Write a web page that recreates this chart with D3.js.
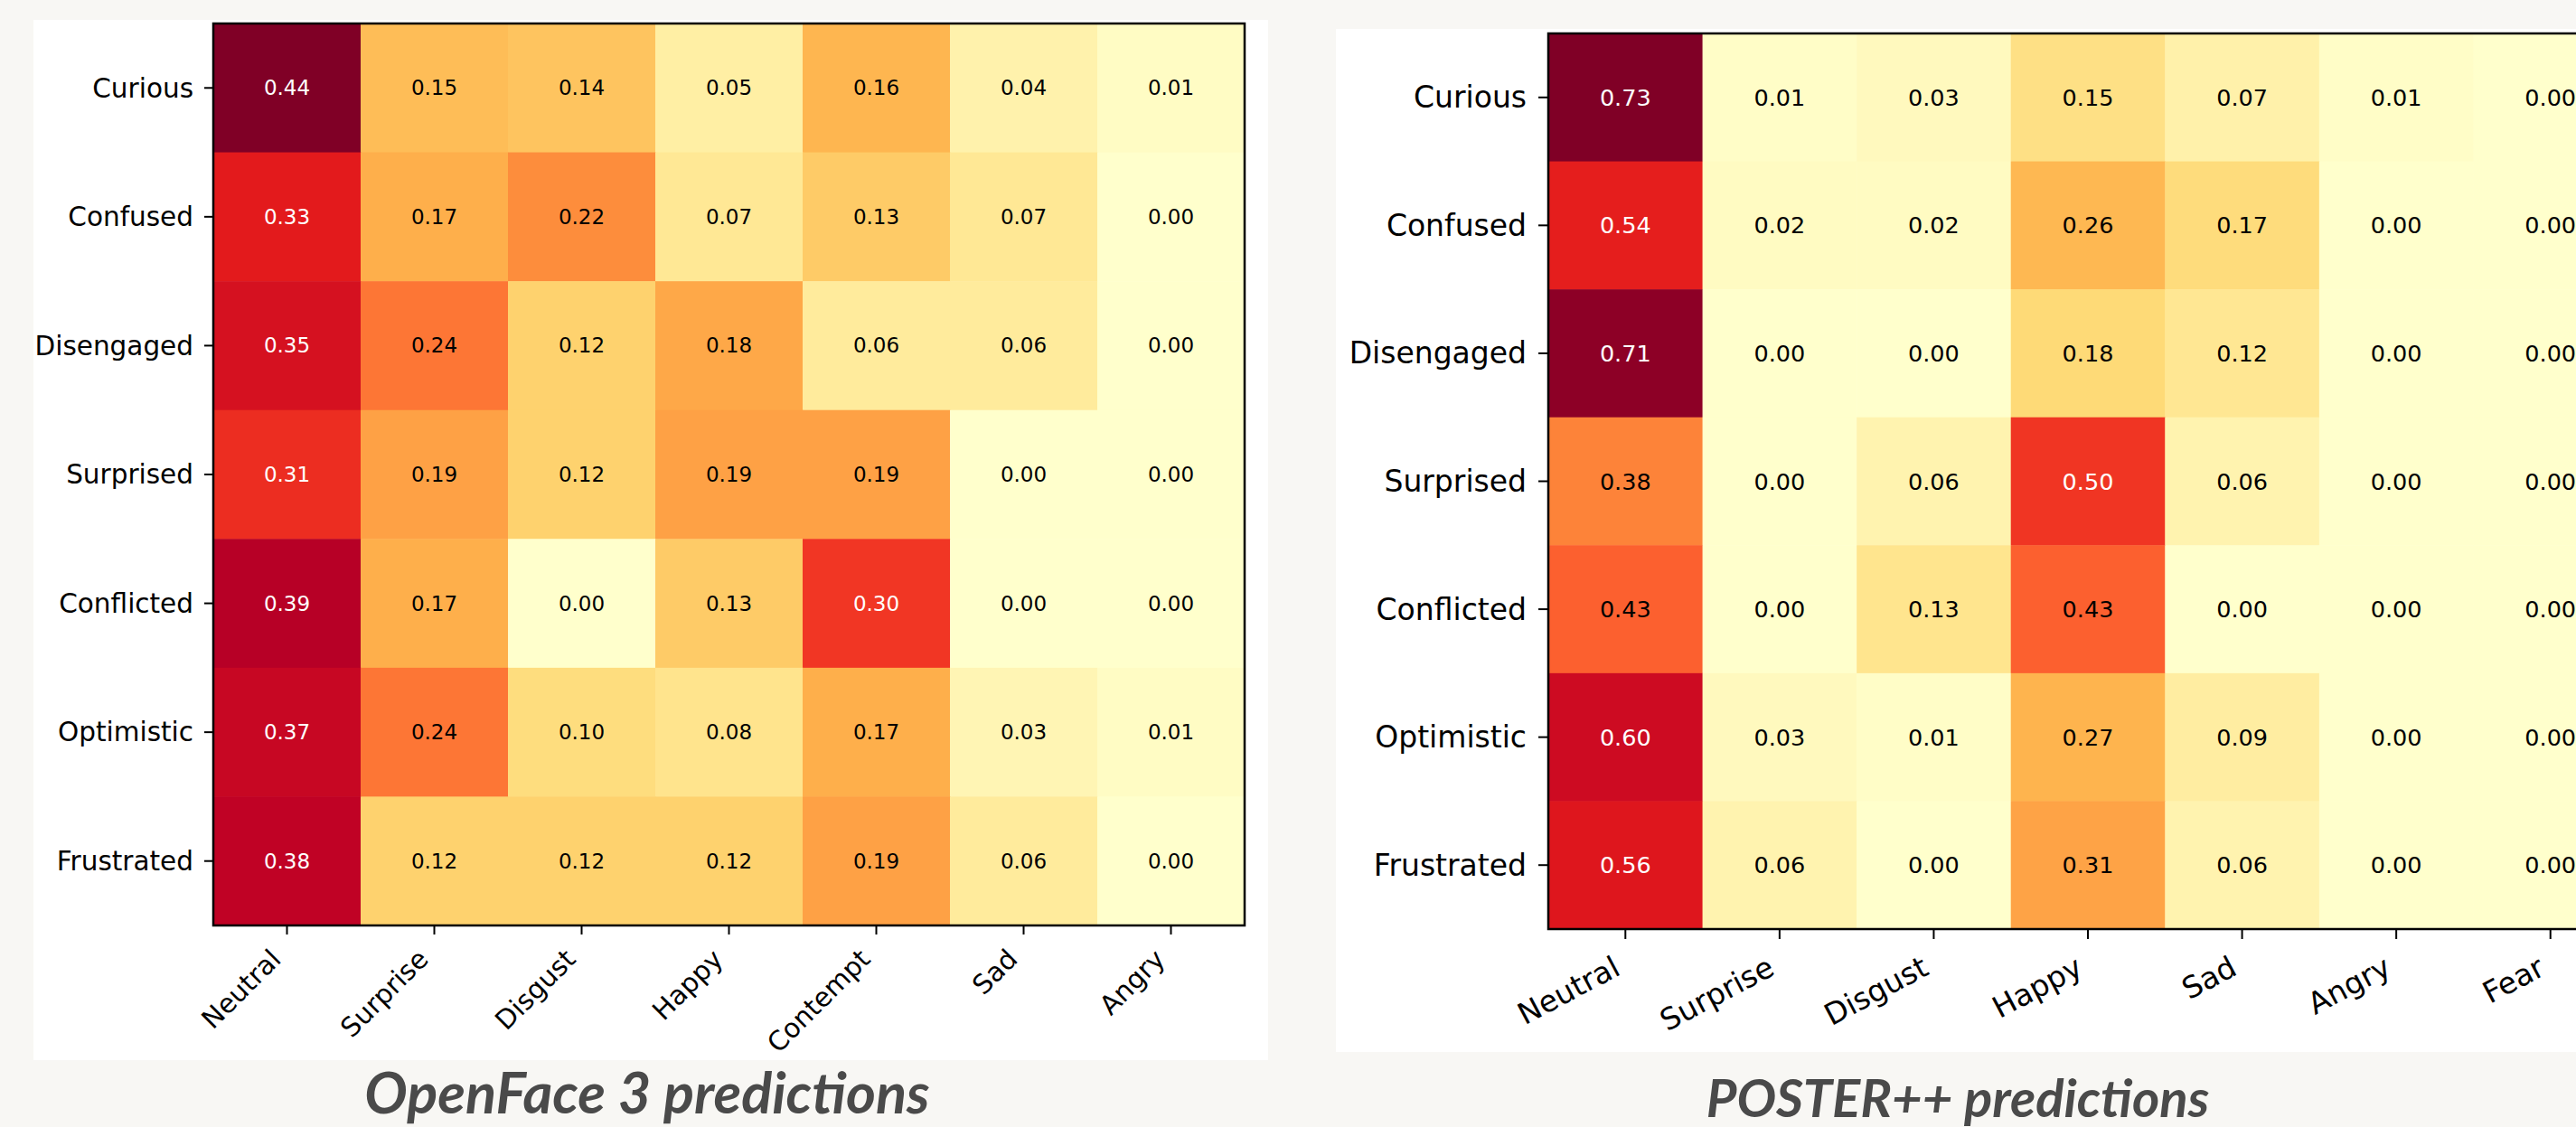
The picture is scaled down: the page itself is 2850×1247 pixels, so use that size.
<!DOCTYPE html>
<html>
<head>
<meta charset="utf-8">
<script src="https://cdn.jsdelivr.net/npm/d3@7"></script>
<style>
  html, body { margin: 0; padding: 0; background: #f8f7f4; overflow: hidden; }
  svg { display: block; }
</style>
</head>
<body>
<svg id="chart" width="2850" height="1247"></svg>
<script>
// Participant-reported states (rows) shared by both heatmaps
const states = ["Curious", "Confused", "Disengaged", "Surprised", "Conflicted", "Optimistic", "Frustrated"];

// OpenFace 3 predicted emotion classes and proportions per state
const openfaceEmotions = ["Neutral", "Surprise", "Disgust", "Happy", "Contempt", "Sad", "Angry"];
const openfaceValues = [
  [0.44, 0.15, 0.14, 0.05, 0.16, 0.04, 0.01],
  [0.33, 0.17, 0.22, 0.07, 0.13, 0.07, 0.00],
  [0.35, 0.24, 0.12, 0.18, 0.06, 0.06, 0.00],
  [0.31, 0.19, 0.12, 0.19, 0.19, 0.00, 0.00],
  [0.39, 0.17, 0.00, 0.13, 0.30, 0.00, 0.00],
  [0.37, 0.24, 0.10, 0.08, 0.17, 0.03, 0.01],
  [0.38, 0.12, 0.12, 0.12, 0.19, 0.06, 0.00]
];

// POSTER++ predicted emotion classes and proportions per state
const posterEmotions = ["Neutral", "Surprise", "Disgust", "Happy", "Sad", "Angry", "Fear"];
const posterValues = [
  [0.73, 0.01, 0.03, 0.15, 0.07, 0.01, 0.00],
  [0.54, 0.02, 0.02, 0.26, 0.17, 0.00, 0.00],
  [0.71, 0.00, 0.00, 0.18, 0.12, 0.00, 0.00],
  [0.38, 0.00, 0.06, 0.50, 0.06, 0.00, 0.00],
  [0.43, 0.00, 0.13, 0.43, 0.00, 0.00, 0.00],
  [0.60, 0.03, 0.01, 0.27, 0.09, 0.00, 0.00],
  [0.56, 0.06, 0.00, 0.31, 0.06, 0.00, 0.00]
];

const titles = ["OpenFace 3 predictions", "POSTER++ predictions"];

// YlOrRd colour stops (ColorBrewer, 9 classes), interpolated linearly
const ylOrRd = ["#ffffcc", "#ffeda0", "#fed976", "#feb24c", "#fd8d3c", "#fc4e2a", "#e31a1c", "#bd0026", "#800026"];

const svg = d3.select("#chart");

svg.append("rect").attr("width", 2850).attr("height", 1247).attr("fill", "#f8f7f4");

function drawHeatmap(cfg) {
  const { rows, cols, values } = cfg;
  const vmax = d3.max(values.flat());
  const color = d3.scaleLinear()
    .domain(ylOrRd.map((_, i) => i / (ylOrRd.length - 1) * vmax))
    .range(ylOrRd)
    .interpolate(d3.interpolateRgb);

  // white card behind the plot
  svg.append("rect")
    .attr("x", cfg.card[0]).attr("y", cfg.card[1])
    .attr("width", cfg.card[2] - cfg.card[0]).attr("height", cfg.card[3] - cfg.card[1])
    .attr("fill", "#ffffff");

  const x = d3.scaleBand().domain(cols).range([cfg.plot[0], cfg.plot[2]]).padding(0);
  const y = d3.scaleBand().domain(rows).range([cfg.plot[1], cfg.plot[3]]).padding(0);

  const cells = [];
  values.forEach((row, i) => row.forEach((v, j) => cells.push({ r: rows[i], c: cols[j], v })));

  const g = svg.append("g");

  g.selectAll("rect.cell").data(cells).join("rect")
    .attr("class", "cell")
    .attr("x", d => x(d.c)).attr("y", d => y(d.r))
    .attr("width", x.bandwidth() + 0.5).attr("height", y.bandwidth() + 0.5)
    .attr("fill", d => color(d.v));

  g.selectAll("text.val").data(cells).join("text")
    .attr("class", "val")
    .attr("x", d => x(d.c) + x.bandwidth() / 2)
    .attr("y", d => y(d.r) + y.bandwidth() / 2)
    .attr("text-anchor", "middle")
    .attr("dominant-baseline", "central")
    .attr("font-family", "DejaVu Sans")
    .attr("font-size", cfg.cellFont)
    .attr("fill", d => d.v > 0.6 * vmax ? "#ffffff" : "#000000")
    .text(d => d.v.toFixed(2));

  // frame
  g.append("rect")
    .attr("x", cfg.plot[0]).attr("y", cfg.plot[1])
    .attr("width", cfg.plot[2] - cfg.plot[0]).attr("height", cfg.plot[3] - cfg.plot[1])
    .attr("fill", "none").attr("stroke", "#000").attr("stroke-width", 2.5);

  // y axis
  const ya = g.append("g")
    .attr("transform", `translate(${cfg.plot[0]},0)`)
    .call(d3.axisLeft(y).tickSize(cfg.tick).tickPadding(cfg.yPad));
  ya.select(".domain").remove();
  ya.selectAll(".tick line").attr("stroke", "#000").attr("stroke-width", 2);
  ya.selectAll(".tick text")
    .attr("font-family", "DejaVu Sans").attr("font-size", cfg.labelFont)
    .attr("fill", "#000").attr("dy", "0.35em");

  // x axis with rotated labels aligned like right-anchored, top-aligned rotated boxes
  const xa = g.append("g")
    .attr("transform", `translate(0,${cfg.plot[3]})`)
    .call(d3.axisBottom(x).tickSize(cfg.tick).tickPadding(0));
  xa.select(".domain").remove();
  xa.selectAll(".tick line").attr("stroke", "#000").attr("stroke-width", 2);
  const th = cfg.rot * Math.PI / 180;
  xa.selectAll(".tick text")
    .attr("font-family", "DejaVu Sans").attr("font-size", cfg.labelFont)
    .attr("fill", "#000")
    .attr("text-anchor", "end")
    .attr("x", 0).attr("y", 0).attr("dy", 0)
    .each(function () {
      const b = this.getBBox();
      const corners = [[b.x, b.y], [b.x + b.width, b.y], [b.x, b.y + b.height], [b.x + b.width, b.y + b.height]]
        .map(([px, py]) => [px * Math.cos(th) + py * Math.sin(th), -px * Math.sin(th) + py * Math.cos(th)]);
      const maxX = d3.max(corners, c => c[0]);
      const minY = d3.min(corners, c => c[1]);
      const top = cfg.tick + cfg.xPad;
      d3.select(this).attr("transform", `translate(${-maxX},${top - minY}) rotate(${-cfg.rot})`);
    });

  // caption
  svg.append("text")
    .attr("x", cfg.title.x).attr("y", cfg.title.y)
    .attr("text-anchor", "middle")
    .attr("font-family", "Lato, 'Open Sans', sans-serif")
    .attr("font-weight", "bold").attr("font-style", "italic")
    .attr("font-size", cfg.title.size)
    .attr("fill", "#4a4a4a")
    .text(cfg.title.text);
}

drawHeatmap({
  rows: states, cols: openfaceEmotions, values: openfaceValues,
  card: [37, 22, 1403, 1173], plot: [236, 26, 1377, 1024],
  cellFont: 23, labelFont: 29.5, tick: 10, yPad: 12, xPad: 10, rot: 45,
  title: { text: titles[0], x: 716, y: 1232, size: 63 }
});

drawHeatmap({
  rows: states, cols: posterEmotions, values: posterValues,
  card: [1478, 32, 2860, 1164], plot: [1713, 37, 2907, 1028],
  cellFont: 25.5, labelFont: 33, tick: 11, yPad: 13, xPad: 11, rot: 28,
  title: { text: titles[1], x: 2166, y: 1236, size: 58 }
});
</script>
</body>
</html>
